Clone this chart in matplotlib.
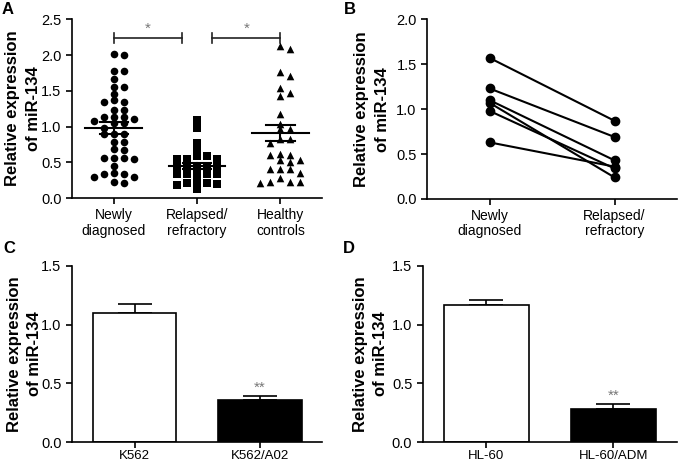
import numpy as np
import matplotlib
matplotlib.use("Agg")
import matplotlib.pyplot as plt

plt.rcParams['font.family'] = ['Liberation Sans', 'DejaVu Sans']

# panel A: scatter values per group
groups_a = ['Newly\ndiagnosed', 'Relapsed/\nrefractory', 'Healthy\ncontrols']
newly = [2.00, 2.01, 1.78, 1.78, 1.66, 1.56, 1.56, 1.45, 1.34, 1.34, 1.37,
         1.23, 1.23, 1.13, 1.10, 1.13, 1.13, 1.05, 1.05, 1.08, 0.98, 0.90,
         0.90, 0.90, 0.78, 0.78, 0.67, 0.69, 0.555, 0.54, 0.555, 0.555,
         0.45, 0.345, 0.30, 0.34, 0.34, 0.30, 0.205, 0.22]
relapsed = [1.09, 0.98, 0.77, 0.67, 0.59, 0.59, 0.54, 0.54, 0.54, 0.45,
            0.45, 0.45, 0.45, 0.45, 0.34, 0.34, 0.34, 0.34, 0.34, 0.205,
            0.22, 0.13, 0.18, 0.20, 0.21]
healthy = [2.09, 2.12, 1.76, 1.70, 1.54, 1.43, 1.47, 1.18, 1.04, 0.96, 0.96,
           0.83, 0.77, 0.82, 0.62, 0.60, 0.60, 0.53, 0.51, 0.535, 0.35, 0.40,
           0.40, 0.40, 0.23, 0.23, 0.21, 0.23, 0.28]
# mean and SEM as drawn in panel A
mean_a = [0.98, 0.45, 0.91]
sem_a = [0.085, 0.04, 0.115]

# panel B: paired values
groups_b = ['Newly\ndiagnosed', 'Relapsed/\nrefractory']
paired_nd = [1.57, 1.23, 1.10, 1.07, 0.98, 0.63]
paired_rr = [0.87, 0.69, 0.43, 0.24, 0.34, 0.36]

# panels C, D: bars
cells_c = ['K562', 'K562/A02']
mean_c = [1.10, 0.36]
err_c = [0.08, 0.03]
cells_d = ['HL-60', 'HL-60/ADM']
mean_d = [1.17, 0.28]
err_d = [0.04, 0.04]

ylab = 'Relative expression\nof miR-134'

fig = plt.figure(figsize=(6.78, 4.66), dpi=100)
axA = fig.add_axes([0.1062, 0.575, 0.369, 0.3836])
axB = fig.add_axes([0.630, 0.573, 0.3685, 0.3856])
axC = fig.add_axes([0.1062, 0.0515, 0.369, 0.3777])
axD = fig.add_axes([0.6235, 0.0515, 0.375, 0.3777])


def style(ax, labx):
    for s in ['top', 'right']:
        ax.spines[s].set_visible(False)
    for s in ['left', 'bottom']:
        ax.spines[s].set_linewidth(1.2)
    ax.tick_params(width=1.2, length=4, labelsize=10.5)
    ax.tick_params(axis='x', labelsize=10)
    ax.set_ylabel(ylab, fontsize=12, fontweight='bold', linespacing=1.45)
    ax.yaxis.set_label_coords(labx, 0.5)


def swarm(ax, x0, vals, step_px=10, gap_px=5.5):
    # simple prism-like column layout in pixel space
    tr = ax.transData
    pts = []
    out = np.zeros(len(vals))
    order = np.argsort(vals)[::-1]
    cands = [0]
    for j in range(1, 8):
        cands += [j, -j]
    for i in order:
        px, py = tr.transform((x0, vals[i]))
        for c in cands:
            cx = px + c * step_px
            ok = all(abs(cx - qx) > 1 or abs(py - qy) >= gap_px for qx, qy in pts)
            if ok:
                pts.append((cx, py))
                out[i] = tr.inverted().transform((cx, py))[0]
                break
    return out


# ---- A
style(axA, -0.125)
axA.set_xlim(-0.5, 2.5)
axA.set_ylim(0, 2.5)
axA.set_yticks(np.arange(0, 2.51, 0.5), ['%.1f' % v for v in np.arange(0, 2.51, 0.5)])
axA.set_xticks(range(3), groups_a, linespacing=1.1)
markers = ['o', 's', '^']
for i, vals in enumerate([newly, relapsed, healthy]):
    xs = swarm(axA, i, vals)
    axA.scatter(xs, vals, marker=markers[i], s=30, color='black', zorder=3, linewidths=0)
    m, sem = mean_a[i], sem_a[i]
    axA.plot([i - 0.34, i + 0.34], [m, m], color='black', lw=1.5, zorder=4)
    axA.plot([i, i], [m - sem, m + sem], color='black', lw=1.5, zorder=4)
    axA.plot([i - 0.17, i + 0.17], [m + sem, m + sem], color='black', lw=1.5, zorder=4)
    axA.plot([i - 0.17, i + 0.17], [m - sem, m - sem], color='black', lw=1.5, zorder=4)
for a, b in [(0, 0.82), (1.18, 2)]:
    axA.plot([a, b], [2.24, 2.24], color='#222222', lw=1.2, clip_on=False)
    axA.plot([a, a], [2.165, 2.315], color='#222222', lw=1.2, clip_on=False)
    axA.plot([b, b], [2.165, 2.315], color='#222222', lw=1.2, clip_on=False)
    axA.text((a + b) / 2, 2.27, '*', ha='center', va='bottom', fontsize=11, color='#777777')

# ---- B
style(axB, -0.15)
axB.set_xlim(-0.5, 1.5)
axB.set_ylim(0, 2.0)
axB.set_yticks(np.arange(0, 2.01, 0.5), ['%.1f' % v for v in np.arange(0, 2.01, 0.5)])
axB.set_xticks(range(2), groups_b, linespacing=1.1)
for a, b in zip(paired_nd, paired_rr):
    axB.plot([0, 1], [a, b], color='black', lw=1.5, marker='o', ms=6, zorder=3)

# ---- C, D
for ax, cells, means, errs, labx in [(axC, cells_c, mean_c, err_c, -0.12),
                                     (axD, cells_d, mean_d, err_d, -0.135)]:
    style(ax, labx)
    ax.set_xlim(-0.5, 1.5)
    ax.set_ylim(0, 1.5)
    ax.set_yticks(np.arange(0, 1.51, 0.5), ['%.1f' % v for v in np.arange(0, 1.51, 0.5)])
    ax.bar(range(2), means, width=0.67, color=['white', 'black'], edgecolor='black', lw=1.2, zorder=2)
    ax.errorbar(range(2), means, yerr=[[0, 0], errs], fmt='none', ecolor='black',
                elinewidth=1.2, capsize=12.5, capthick=1.2, zorder=1)
    ax.set_xticks(range(2), cells)
    ax.tick_params(axis='x', labelsize=9.5, pad=2)
    ax.text(1, means[1] + errs[1] + 0.015, '**', ha='center', va='bottom', fontsize=11, color='#777777')

for lab, x, y in [('A', 0.003, 0.995), ('B', 0.507, 0.995), ('C', 0.005, 0.482), ('D', 0.505, 0.482)]:
    fig.text(x, y, lab, fontsize=12, fontweight='bold', ha='left', va='top')

fig.savefig('out.png', dpi=100)
